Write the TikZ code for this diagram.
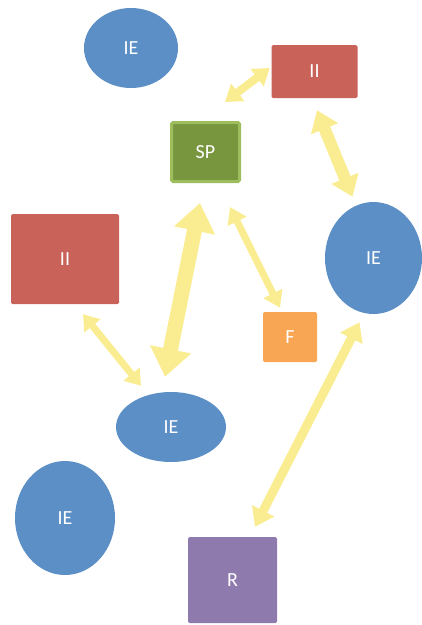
\documentclass[tikz,border=0pt]{standalone}
\usepackage{fontspec}
\setmainfont{Carlito}
\usetikzlibrary{shapes.geometric,arrows.meta}
\definecolor{ieblue}{RGB}{91,143,197}
\definecolor{iired}{RGB}{201,99,90}
\definecolor{spgreen}{RGB}{120,150,62}
\definecolor{spborder}{RGB}{158,190,94}
\definecolor{forange}{RGB}{248,166,84}
\definecolor{rpurple}{RGB}{143,122,174}
\definecolor{arrowyellow}{RGB}{250,236,145}
\tikzset{
  lbl/.style={text=white,font=\fontsize{20}{24}\selectfont,inner sep=0pt},
  iebox/.style={lbl,ellipse,fill=ieblue},
  sqbox/.style={lbl,rectangle,rounded corners=1.5pt},
  yarr/.style n args={3}{draw=arrowyellow,line width=#1,
    arrows={Triangle[width=#2,length=#3]-Triangle[width=#2,length=#3]}}
}
\begin{document}
\begin{tikzpicture}[x=1pt,y=-1pt]
\useasboundingbox (0,0) rectangle (422,625);
\node[iebox,minimum width=94pt,minimum height=80pt] (ie1) at (131,48) {IE};
\node[sqbox,fill=iired,minimum width=86pt,minimum height=53pt] (iit) at (314.5,71.5) {II};
\node[sqbox,fill=spgreen,draw=spborder,line width=3pt,minimum width=68pt,minimum height=59pt] (sp) at (205.5,152) {SP};
\node[sqbox,fill=iired,minimum width=108pt,minimum height=90pt] (iil) at (65,259) {II};
\node[sqbox,fill=forange,minimum width=54pt,minimum height=50pt] (f) at (290,337) {F};
\node[iebox,minimum width=97pt,minimum height=112pt] (ie2) at (373.5,258) {IE};
\node[iebox,minimum width=110pt,minimum height=70pt] (ie3) at (171,427) {IE};
\node[iebox,minimum width=100pt,minimum height=114pt] (ie4) at (65,518) {IE};
\node[sqbox,fill=rpurple,minimum width=89pt,minimum height=86pt] (r) at (232.5,580) {R};
% arrows
\draw[yarr={8pt}{21pt}{16pt}] ([xshift=19.5pt,yshift=19pt]sp.north) -- ([xshift=-1.5pt,yshift=3.5pt]iit.west);
\draw[yarr={12pt}{28pt}{20pt}] ([xshift=2.5pt,yshift=-12pt]iit.south) -- ([xshift=-21pt,yshift=5pt]ie2.north);
\draw[yarr={15pt}{40pt}{28pt}] ([xshift=-5.5pt,yshift=-20pt]sp.south) -- ([xshift=-6pt,yshift=15pt]ie3.north);
\draw[yarr={7pt}{20pt}{16pt}] ([xshift=24.5pt,yshift=-24pt]sp.south) -- ([xshift=-10pt,yshift=4pt]f.north);
\draw[yarr={7pt}{20pt}{15pt}] ([xshift=18pt,yshift=-10pt]iil.south) -- ([xshift=-30pt,yshift=6pt]ie3.north);
\draw[yarr={9pt}{24pt}{18pt}] ([xshift=-14pt,yshift=-8pt]ie2.south) -- ([xshift=22.5pt,yshift=10pt]r.north);
\end{tikzpicture}
\end{document}
